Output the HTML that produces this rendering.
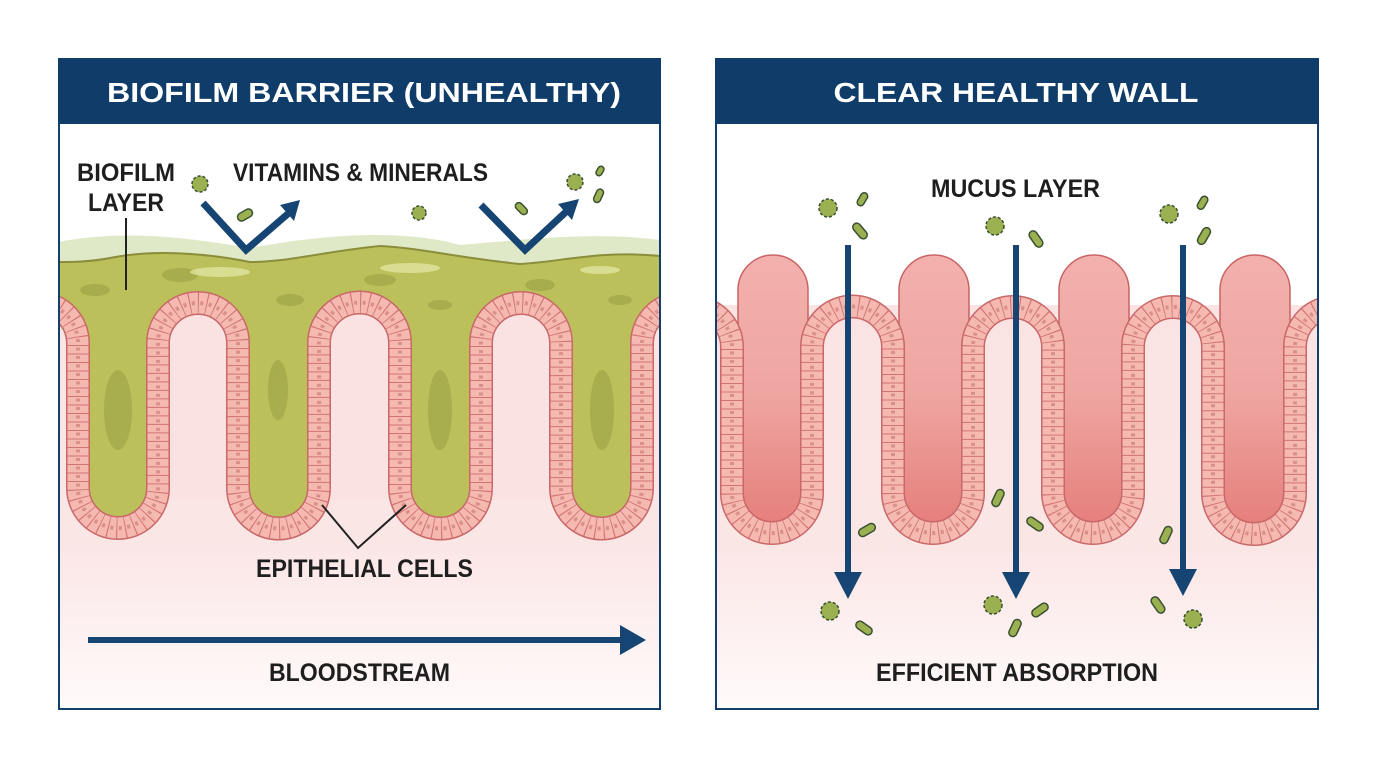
<!DOCTYPE html>
<html><head><meta charset="utf-8"><style>
html,body{margin:0;padding:0;background:#fff;}
svg{display:block;}
text{font-family:"Liberation Sans Narrow","Liberation Sans",sans-serif;font-weight:bold;}
</style></head><body>
<svg width="1376" height="768" viewBox="0 0 1376 768" xmlns="http://www.w3.org/2000/svg">
<defs>
<linearGradient id="pinkbg" x1="0" y1="0" x2="0" y2="1">
<stop offset="0" stop-color="#fbe3e3"/><stop offset="0.6" stop-color="#fbe6e6"/><stop offset="1" stop-color="#fffafa"/>
</linearGradient>
<linearGradient id="oval" x1="0" y1="0" x2="0" y2="1">
<stop offset="0" stop-color="#f3b0ac"/><stop offset="0.5" stop-color="#efa6a2"/><stop offset="1" stop-color="#e57f7c"/>
</linearGradient>
<clipPath id="cl"><rect x="60" y="124" width="599" height="584"/></clipPath>
<clipPath id="cr"><rect x="717" y="124" width="600" height="584"/></clipPath>
<path id="bl" d="M-2,343 A40,40 0 0 1 78,343 L78,488 A40,40 0 0 0 158,488 L158,343 A40,40 0 0 1 238,343 L238,488 A40,40 0 0 0 319,488 L319,343 A40,40 0 0 1 400,343 L400,488 A40,40 0 0 0 481,488 L481,343 A40,40 0 0 1 561,343 L561,488 A40,40 0 0 0 642,488 L642,343 A40,40 0 0 1 722,343"/>
<path id="br" d="M652,347 A40,40 0 0 1 732,347 L732,493 A40,40 0 0 0 812,493 L812,347 A40,40 0 0 1 893,347 L893,493 A40,40 0 0 0 973,493 L973,347 A40,40 0 0 1 1053,347 L1053,493 A40,40 0 0 0 1133,493 L1133,347 A40,40 0 0 1 1213,347 L1213,493 A40,40 0 0 0 1295,493 L1295,347 A40,40 0 0 1 1375,347"/>
</defs>

<!-- LEFT PANEL -->
<g clip-path="url(#cl)">
<rect x="60" y="124" width="599" height="584" fill="#fff"/>
<rect x="60" y="300" width="599" height="408" fill="url(#pinkbg)"/>
<path d="M58,242 C120,230 180,236 250,248 C320,235 400,228 460,245 C540,238 600,232 660,240 L660,330 L58,330 Z" fill="#dfe9c8"/>
<path d="M78,343 L78,488 A40,40 0 0 0 158,488 L158,343 A40,40 0 0 1 238,343 L238,488 A40,40 0 0 0 319,488 L319,343 A40,40 0 0 1 400,343 L400,488 A40,40 0 0 0 481,488 L481,343 A40,40 0 0 1 561,343 L561,488 A40,40 0 0 0 642,488 L642,343 A40,40 0 0 1 722,343 L722,240 L660,256 C600,250 560,262 520,264 C460,258 420,248 380,246 C320,252 290,262 250,262 C200,252 150,250 110,258 C90,262 70,262 58,262 L58,303 L78,343 Z" fill="#bcc05a"/>
<path d="M58,262 C70,262 90,262 110,258 C150,250 200,252 250,262 C290,262 320,252 380,246 C420,248 460,258 520,264 C560,262 600,250 660,256" fill="none" stroke="#8a8d3a" stroke-width="2"/>
<g fill="#a3a84a" opacity="0.8">
<ellipse cx="95" cy="290" rx="15" ry="6"/><ellipse cx="180" cy="275" rx="18" ry="7"/><ellipse cx="290" cy="300" rx="14" ry="6"/>
<ellipse cx="380" cy="280" rx="16" ry="6"/><ellipse cx="440" cy="305" rx="12" ry="5"/><ellipse cx="540" cy="285" rx="15" ry="6"/>
<ellipse cx="620" cy="300" rx="12" ry="5"/><ellipse cx="278" cy="390" rx="10" ry="30"/><ellipse cx="440" cy="410" rx="12" ry="40"/>
<ellipse cx="602" cy="410" rx="12" ry="40"/><ellipse cx="118" cy="410" rx="14" ry="40"/>
</g>
<g fill="#e6e9a8" opacity="0.7">
<ellipse cx="220" cy="272" rx="30" ry="5"/><ellipse cx="410" cy="268" rx="30" ry="5"/><ellipse cx="600" cy="270" rx="20" ry="4"/>
</g>
<g fill="#fbe2e2">
<path d="M170,500 L170,343 A28,28 0 0 1 226,343 L226,500 Z"/>
<path d="M331,500 L331,343 A28,28 0 0 1 388,343 L388,500 Z"/>
<path d="M493,500 L493,343 A28,28 0 0 1 549,343 L549,500 Z"/>
</g>
<g fill="none">
<use href="#bl" stroke="#c86868" stroke-width="24"/>
<use href="#bl" stroke="#f6b9b2" stroke-width="21"/>
<use href="#bl" stroke="#d07474" stroke-width="21" stroke-dasharray="1 7.5"/>
<use href="#bl" stroke="#d98f8a" stroke-width="4" stroke-dasharray="3 5.5" stroke-dashoffset="-2.5"/>
</g>
<line x1="126" y1="218" x2="126" y2="290" stroke="#222" stroke-width="2"/>
<polyline points="322,505 358,548 406,505" fill="none" stroke="#222" stroke-width="2"/>
<polyline points="203,203 246,250 290,212" fill="none" stroke="#174573" stroke-width="7"/>
<path d="M300,200 L280,205 L294,221 Z" fill="#174573"/>
<polyline points="481,205 525,250 568,210" fill="none" stroke="#174573" stroke-width="7"/>
<path d="M579,199 L558,204 L572,220 Z" fill="#174573"/>
<g fill="#9bb050" stroke="#3a5030" stroke-width="1.5">
<circle cx="200" cy="184" r="8" stroke-dasharray="3 2"/><circle cx="419" cy="213" r="7" stroke-dasharray="3 2"/><circle cx="575" cy="182" r="8" stroke-dasharray="3 2"/>
<rect x="237" y="211" width="16" height="8" rx="4" transform="rotate(-30 245 215)"/>
<rect x="514" y="205" width="14" height="7" rx="3.5" transform="rotate(45 521 209)"/>
<rect x="592" y="192" width="14" height="7" rx="3.5" transform="rotate(-65 599 196)"/>
<rect x="595" y="168" width="10" height="6" rx="3" transform="rotate(-60 600 171)"/>
</g>
<line x1="88" y1="640" x2="625" y2="640" stroke="#174573" stroke-width="6"/>
<path d="M646,640 L620,625 L620,655 Z" fill="#174573"/>
<g fill="#1e1e1e" font-size="25">
<text x="126" y="181" text-anchor="middle" textLength="98" lengthAdjust="spacingAndGlyphs">BIOFILM</text>
<text x="126" y="211" text-anchor="middle" textLength="76" lengthAdjust="spacingAndGlyphs">LAYER</text>
<text x="233" y="181" textLength="255" lengthAdjust="spacingAndGlyphs">VITAMINS &amp; MINERALS</text>
<text x="256" y="577" textLength="217" lengthAdjust="spacingAndGlyphs">EPITHELIAL CELLS</text>
<text x="269" y="681" textLength="181" lengthAdjust="spacingAndGlyphs">BLOODSTREAM</text>
</g>
</g>
<rect x="59" y="59" width="601" height="650" fill="none" stroke="#123f6b" stroke-width="2"/>
<rect x="58" y="58" width="603" height="66" fill="#0f3c68"/>
<text x="364" y="102" fill="#fff" font-size="28" text-anchor="middle" textLength="514" lengthAdjust="spacingAndGlyphs" style="font-family:'Liberation Sans',sans-serif">BIOFILM BARRIER (UNHEALTHY)</text>

<!-- RIGHT PANEL -->
<g clip-path="url(#cr)">
<rect x="717" y="124" width="600" height="584" fill="#fff"/>
<rect x="717" y="305" width="600" height="403" fill="url(#pinkbg)"/>
<g fill="url(#oval)" stroke="#c86464" stroke-width="1.5">
<rect x="738" y="255" width="70" height="270" rx="35"/>
<rect x="899" y="255" width="70" height="270" rx="35"/>
<rect x="1059" y="255" width="70" height="270" rx="35"/>
<rect x="1220" y="255" width="70" height="270" rx="35"/>
</g>
<g fill="none">
<use href="#br" stroke="#c86868" stroke-width="24"/>
<use href="#br" stroke="#f6b9b2" stroke-width="21"/>
<use href="#br" stroke="#d07474" stroke-width="21" stroke-dasharray="1 7.5"/>
<use href="#br" stroke="#d98f8a" stroke-width="4" stroke-dasharray="3 5.5" stroke-dashoffset="-2.5"/>
</g>
<g stroke="#174573" stroke-width="6">
<line x1="848" y1="245" x2="848" y2="578"/>
<line x1="1016" y1="245" x2="1016" y2="578"/>
<line x1="1183" y1="245" x2="1183" y2="575"/>
</g>
<g fill="#174573">
<path d="M848,599 L834,572 L862,572 Z"/>
<path d="M1016,599 L1002,572 L1030,572 Z"/>
<path d="M1183,596 L1169,569 L1197,569 Z"/>
</g>
<g fill="#9bb050" stroke="#3a5030" stroke-width="1.5">
<circle cx="828" cy="208" r="9" stroke-dasharray="3 2"/><circle cx="995" cy="226" r="9" stroke-dasharray="3 2"/><circle cx="1169" cy="214" r="9" stroke-dasharray="3 2"/>
<circle cx="830" cy="611" r="9" stroke-dasharray="3 2"/><circle cx="993" cy="605" r="9" stroke-dasharray="3 2"/><circle cx="1193" cy="619" r="9" stroke-dasharray="3 2"/>
<rect x="855" y="196" width="14" height="7" rx="3.5" transform="rotate(-60 862 199)"/>
<rect x="851" y="227" width="18" height="8" rx="4" transform="rotate(50 860 231)"/>
<rect x="1027" y="235" width="18" height="8" rx="4" transform="rotate(55 1036 239)"/>
<rect x="1196" y="199" width="14" height="7" rx="3.5" transform="rotate(-60 1203 203)"/>
<rect x="1195" y="232" width="18" height="8" rx="4" transform="rotate(-60 1204 236)"/>
<rect x="989" y="494" width="18" height="8" rx="4" transform="rotate(-65 998 498)"/>
<rect x="858" y="526" width="18" height="8" rx="4" transform="rotate(-30 867 530)"/>
<rect x="1026" y="520" width="18" height="8" rx="4" transform="rotate(35 1035 524)"/>
<rect x="1157" y="531" width="18" height="8" rx="4" transform="rotate(-65 1166 535)"/>
<rect x="855" y="624" width="18" height="8" rx="4" transform="rotate(35 864 628)"/>
<rect x="1006" y="624" width="18" height="8" rx="4" transform="rotate(-65 1015 628)"/>
<rect x="1031" y="606" width="18" height="8" rx="4" transform="rotate(-35 1040 610)"/>
<rect x="1149" y="601" width="18" height="8" rx="4" transform="rotate(55 1158 605)"/>
</g>
<g fill="#1e1e1e" font-size="25">
<text x="931" y="197" textLength="169" lengthAdjust="spacingAndGlyphs">MUCUS LAYER</text>
<text x="876" y="681" textLength="282" lengthAdjust="spacingAndGlyphs">EFFICIENT ABSORPTION</text>
</g>
</g>
<rect x="716" y="59" width="602" height="650" fill="none" stroke="#123f6b" stroke-width="2"/>
<rect x="715" y="58" width="604" height="66" fill="#0f3c68"/>
<text x="1016" y="102" fill="#fff" font-size="28" text-anchor="middle" textLength="365" lengthAdjust="spacingAndGlyphs" style="font-family:'Liberation Sans',sans-serif">CLEAR HEALTHY WALL</text>
</svg>
</body></html>
